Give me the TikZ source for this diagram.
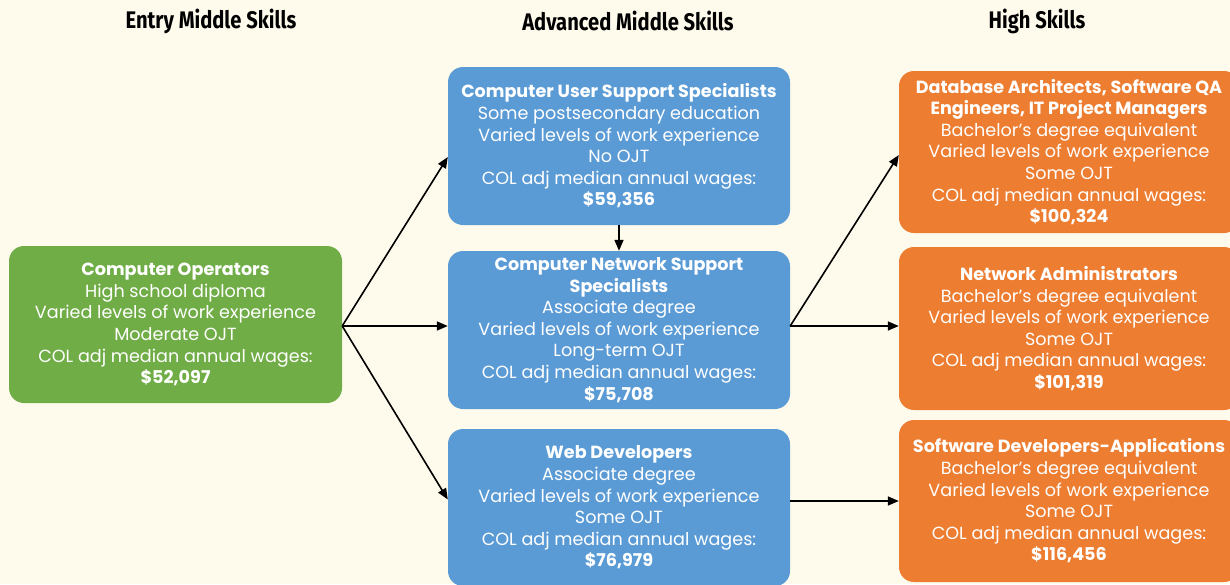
\documentclass[tikz,border=0pt]{standalone}
\usepackage{fontspec}
\setmainfont{Poppins}
\newfontfamily\headfont[FakeStretch=0.84]{Fira Sans}
\usetikzlibrary{arrows.meta}
\definecolor{bg}{HTML}{FEFAEC}
\definecolor{cgreen}{HTML}{70AD47}
\definecolor{cblue}{HTML}{5B9BD5}
\definecolor{corange}{HTML}{ED7D31}
\tikzset{
  box/.style={rounded corners=15pt, text=white, align=center, inner sep=0pt,
    font=\fontsize{17.6}{21.6}\selectfont},
  gbox/.style={box, fill=cgreen, minimum width=333pt, minimum height=157pt},
  bbox/.style={box, fill=cblue, minimum width=342pt, minimum height=158pt},
  obox/.style={box, fill=corange, minimum width=340pt, minimum height=162pt},
  head/.style={font=\headfont\bfseries\fontsize{24}{27}\selectfont, text=black},
  arr/.style={line width=1.6pt, -{Triangle[length=11pt,width=9pt]}}
}
\begin{document}
\begin{tikzpicture}[x=1pt,y=-1pt]
\useasboundingbox (0,0) rectangle (1230,584);
\fill[bg] (0,0) rectangle (1230,584);

\node[head] (h1) at (211,21) {Entry Middle Skills};
\node[head] (h2) at (628,21) {Advanced Middle Skills};
\node[head] (h3) at (1037,21) {High Skills};

\node[gbox] (g) at (175.5,324.5) {\textbf{Computer Operators}\\High school diploma\\Varied levels of work experience\\Moderate OJT\\COL adj median annual wages:\\\textbf{\$52,097}};

\node[bbox] (b1) at (619,146) {\textbf{Computer User Support Specialists}\\Some postsecondary education\\Varied levels of work experience\\No OJT\\COL adj median annual wages:\\\textbf{\$59,356}};
\node[bbox] (b2) at (619,330) {\textbf{Computer Network Support}\\\textbf{Specialists}\\Associate degree\\Varied levels of work experience\\Long-term OJT\\COL adj median annual wages:\\\textbf{\$75,708}};
\node[bbox, minimum height=157pt] (b3) at (619,507.5) {\textbf{Web Developers}\\Associate degree\\Varied levels of work experience\\Some OJT\\COL adj median annual wages:\\\textbf{\$76,979}};

\node[obox] (o1) at (1069,152) {\textbf{Database Architects, Software QA}\\\textbf{Engineers, IT Project Managers}\\Bachelor’s degree equivalent\\Varied levels of work experience\\Some OJT\\COL adj median annual wages:\\\textbf{\$100,324}};
\node[obox, minimum height=163pt] (o2) at (1069,328.5) {\textbf{Network Administrators}\\Bachelor’s degree equivalent\\Varied levels of work experience\\Some OJT\\COL adj median annual wages:\\\textbf{\$101,319}};
\node[obox] (o3) at (1069,501) {\textbf{Software Developers-Applications}\\Bachelor’s degree equivalent\\Varied levels of work experience\\Some OJT\\COL adj median annual wages:\\\textbf{\$116,456}};

\coordinate (gs) at ([yshift=-1.5pt]g.east);
\coordinate (bs) at ([yshift=4pt]b2.east);
\draw[arr] (gs) -- ([yshift=-11pt]b1.west);
\draw[arr] (gs) -- (gs -| b2.west);
\draw[arr] (gs) -- ([yshift=8pt]b3.west);
\draw[arr] (b1.south) -- (b2.north);
\draw[arr] (bs) -- ([yshift=-3pt]o1.west);
\draw[arr] (bs) -- (bs -| o2.west);
\draw[arr] (b3.east |- o3.west) -- (o3.west);
\end{tikzpicture}
\end{document}
